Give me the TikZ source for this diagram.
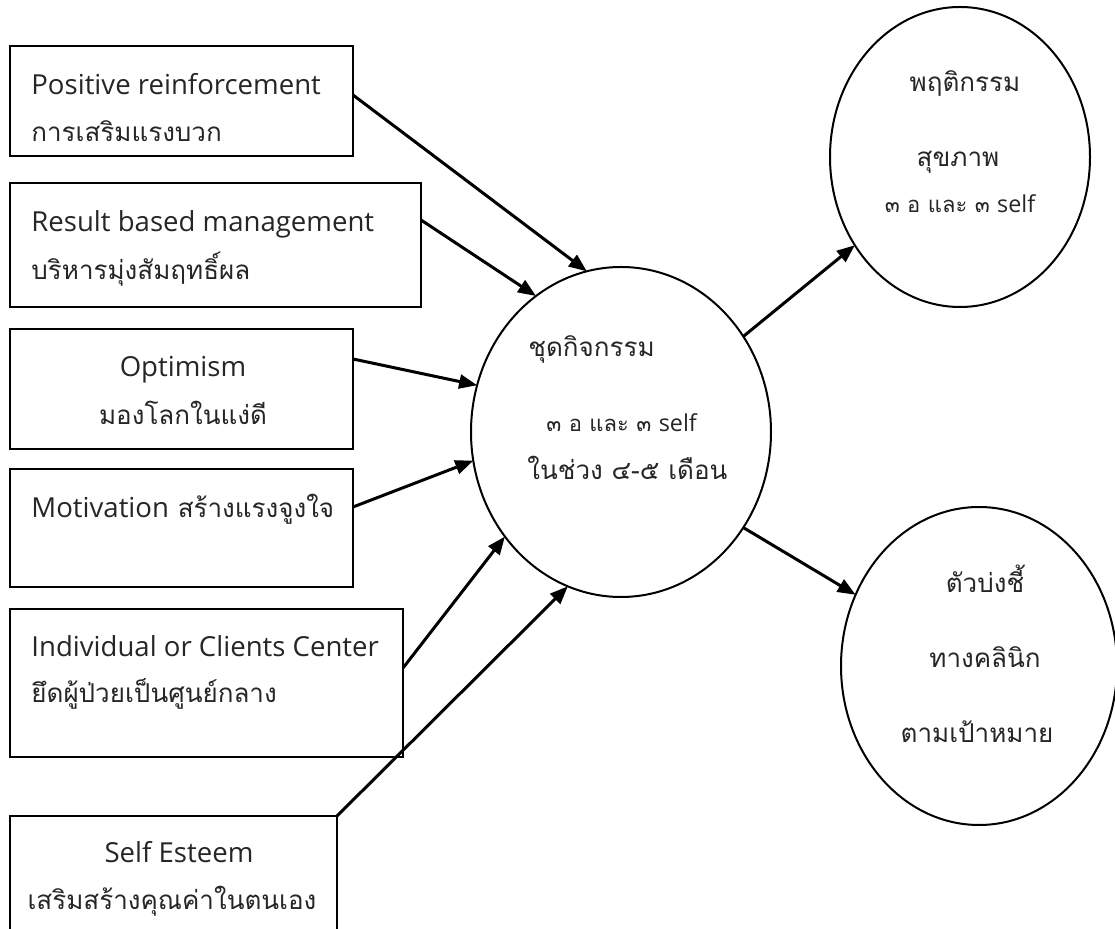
\documentclass[tikz,border=0pt]{standalone}
\usepackage{fontspec}
\setmainfont{Loma}[Script=Thai]
\newfontfamily\engl{Open Sans}[Scale=1.06]
\usetikzlibrary{arrows.meta,shapes.geometric}

\tikzset{
	kasten/.style={draw=black, line width=1pt, rectangle, inner sep=0pt, outer sep=0pt},
	oval/.style={draw=black, line width=1pt, ellipse, inner sep=0pt, outer sep=0pt},
	txt/.style={font=\fontsize{13}{15}\selectfont, text=black!85, inner sep=0pt},
	klein/.style={font=\fontsize{11}{13}\selectfont, text=black!85, inner sep=0pt},
	pfeil/.style={line width=1.5pt, -{Triangle[length=9pt,width=7pt]}}
}

\begin{document}
\begin{tikzpicture}[x=0.5pt, y=-0.5pt]
	\useasboundingbox (0,0) rectangle (1115,929);
	\clip (0,0) rectangle (1115,929);

	% Kaesten links
	\node[kasten, minimum width=171.5pt, minimum height=55pt] (pos) at (181.5,101) {};
	\node[txt, anchor=base west] (posE) at (31,95) {\engl Positive reinforcement};
	\node[txt, anchor=base west] (posT) at (31,142) {การเสริมแรงบวก};

	\node[kasten, minimum width=205.5pt, minimum height=62pt] (rbm) at (215.5,245) {};
	\node[txt, anchor=base west] (rbmE) at (31,232) {\engl Result based management};
	\node[txt, anchor=base west] (rbmT) at (31,280) {บริหารมุ่งสัมฤทธิ์ผล};

	\node[kasten, minimum width=171.5pt, minimum height=60pt] (opt) at (181.5,389) {};
	\node[txt, anchor=base] (optE) at (183,377) {\engl Optimism};
	\node[txt, anchor=base] (optT) at (183,425) {มองโลกในแง่ดี};

	\node[kasten, minimum width=171.5pt, minimum height=59pt] (mot) at (181.5,528) {};
	\node[txt, anchor=base west] (motE) at (31,518) {{\engl Motivation} สร้างแรงจูงใจ};

	\node[kasten, minimum width=196.5pt, minimum height=74pt] (ind) at (206.5,683) {};
	\node[txt, anchor=base west] (indE) at (31,657) {\engl Individual or Clients Center};
	\node[txt, anchor=base west] (indT) at (31,703) {ยึดผู้ป่วยเป็นศูนย์กลาง};

	\node[kasten, minimum width=163.5pt, minimum height=67pt] (self) at (173.5,883) {};
	\node[txt, anchor=base] (selfE) at (179,863) {\engl Self Esteem};
	\node[txt, anchor=base] (selfT) at (172,910) {เสริมสร้างคุณค่าในตนเอง};

	% Ellipsen
	\node[oval, minimum width=150pt, minimum height=165pt] (akt) at (621,432) {};
	\node[txt, anchor=base west] (aktA) at (528,357) {ชุดกิจกรรม};
	\node[klein, anchor=base west] (aktB) at (546,432) {๓ อ และ ๓ {\engl self}};
	\node[txt, anchor=base west] (aktC) at (527,480) {ในช่วง ๔-๕ เดือน};

	\node[oval, minimum width=130pt, minimum height=150pt] (verh) at (960,157) {};
	\node[txt, anchor=base] (verhA) at (965,92) {พฤติกรรม};
	\node[txt, anchor=base] (verhB) at (958,167) {สุขภาพ};
	\node[klein, anchor=base] (verhC) at (960,213) {๓ อ และ ๓ {\engl self}};

	\node[oval, minimum width=138pt, minimum height=159pt] (ind2) at (979,666) {};
	\node[txt, anchor=base] (ind2A) at (985,593) {ตัวบ่งชี้};
	\node[txt, anchor=base] (ind2B) at (985,668) {ทางคลินิก};
	\node[txt, anchor=base] (ind2C) at (977,743) {ตามเป้าหมาย};

	% Pfeile
	\draw[pfeil] ([yshift=3pt]pos.east) -- (akt.102);
	\draw[pfeil] ([yshift=12.5pt]rbm.east) -- (akt.122);
	\draw[pfeil] ([yshift=15pt]opt.east) -- (akt.162);
	\draw[pfeil] ([yshift=10.5pt]mot.east) -- (akt.191);
	\draw[pfeil] ([yshift=7.5pt]ind.east) -- (akt.222);
	\draw[pfeil] (self.north east) -- (akt.251);
	\draw[pfeil] (akt.38) -- (verh.220);
	\draw[pfeil] (akt.322) -- (ind2.150);
\end{tikzpicture}
\end{document}
